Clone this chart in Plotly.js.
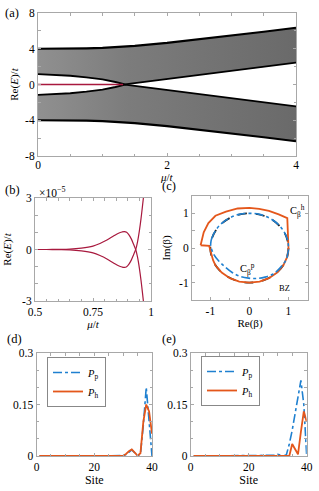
<!DOCTYPE html>
<html><head><meta charset="utf-8">
<script src="https://cdn.plot.ly/plotly-3.0.1.min.js"></script>
<style>html,body{margin:0;padding:0;background:#fff}#g{width:319px;height:491px}</style>
</head><body><div id="g"></div>
<script>
// ---------- panel (a): band envelopes ----------
const muA = [0, 0.25, 0.5, 0.75, 1.0, 1.2, 1.35, 1.5, 2.0, 2.5, 3.0, 3.5, 4.0];
const upTop = [4.0, 4.0, 4.02, 4.05, 4.1, 4.18, 4.25, 4.32, 4.65, 5.05, 5.45, 5.9, 6.35];
const upBot = [1.15, 1.1, 0.98, 0.8, 0.58, 0.28, 0.02, 0.15, 0.62, 1.05, 1.5, 1.95, 2.45];
const loTop = [-1.15, -1.1, -0.98, -0.8, -0.58, -0.28, -0.02, -0.15, -0.62, -1.05, -1.5, -1.95, -2.45];
const loBot = [-4.0, -4.0, -4.02, -4.05, -4.1, -4.18, -4.25, -4.32, -4.65, -5.05, -5.45, -5.9, -6.35];
const muZero = [0, 1.32];
const eZero = [0, 0];
// ---------- panel (b) ----------
const muB = [0.5, 0.55, 0.6, 0.65, 0.7, 0.75, 0.78, 0.81, 0.84, 0.86, 0.875, 0.885, 0.895, 0.905, 0.915, 0.925, 0.934, 0.942, 0.95, 0.957, 0.963, 0.968];
const eBup = [0, 0, 0.005, 0.02, 0.08, 0.2, 0.35, 0.55, 0.8, 0.95, 1.02, 1.04, 1.0, 0.85, 0.62, 0.3, 0.0, -0.45, -1.1, -1.8, -2.5, -3.1];
const eBdn = [0, 0, -0.005, -0.02, -0.08, -0.2, -0.35, -0.55, -0.8, -0.95, -1.02, -1.04, -1.0, -0.85, -0.62, -0.3, 0.0, 0.45, 1.1, 1.8, 2.5, 3.1];
// ---------- panel (c) ----------
const cpRe = [-0.99, -0.97, -0.87, -0.71, -0.5, -0.26, 0, 0.26, 0.5, 0.71, 0.87, 0.97, 1.0, 0.98, 0.94, 0.78, 0.61, 0.4, 0.19, -0.02, -0.24, -0.45, -0.62, -0.78, -0.91, -0.99, -0.99];
const cpIm = [0.14, 0.26, 0.5, 0.71, 0.87, 0.97, 1.0, 0.97, 0.87, 0.71, 0.5, 0.26, 0.0, -0.17, -0.34, -0.58, -0.75, -0.84, -0.88, -0.87, -0.82, -0.7, -0.55, -0.38, -0.19, 0.05, 0.14];
const chRe = [-1.25, -1.03, -0.98, -0.93, -0.87, -0.71, -0.5, -0.26, 0, 0.26, 0.5, 0.71, 0.87, 0.97, 1.0, 0.99, 0.97, 0.75, 0.5, 0.25, 0, -0.3, -0.6, -0.87, -1.05, -1.17, -1.25];
const chIm = [0.08, 0.06, -0.15, -0.35, -0.5, -0.71, -0.87, -0.97, -1.0, -0.97, -0.87, -0.71, -0.5, -0.25, 0.0, 0.4, 0.86, 0.97, 1.07, 1.13, 1.16, 1.14, 1.05, 0.93, 0.72, 0.45, 0.08];
// ---------- panels (d), (e) ----------
const sites = [1,2,3,4,5,6,7,8,9,10,11,12,13,14,15,16,17,18,19,20,21,22,23,24,25,26,27,28,29,30,31,32,33,34,35,36,37,38,39,40];
const pD_p = [0,0,0,0,0,0,0,0,0,0,0,0,0,0,0,0,0,0,0,0,0,0,0,0,0,0,0.001,0.001,0.001,0.001,0.004,0.012,0.018,0.01,0.001,0.005,0.09,0.2,0.09,0.0];
const pD_h = [0,0,0,0,0,0,0,0,0,0,0,0,0,0,0,0,0,0,0,0,0,0,0,0,0,0,0.001,0.002,0.002,0.001,0.006,0.014,0.019,0.01,0.001,0.008,0.1,0.15,0.13,0.065];
const pE_p = [0,0,0,0,0,0,0,0,0,0,0,0,0,0,0,0,0,0,0,0,0,0,0,0,0,0,0,0.001,0.002,0.005,0.002,0.0,0.004,0.035,0.075,0.12,0.165,0.22,0.15,0.0];
const pE_h = [0,0,0,0,0,0,0,0,0,0,0,0,0,0,0,0,0,0,0,0,0,0,0,0,0,0,0,0,0.001,0.001,0.002,0.002,0.002,0.0,0.035,0.02,0.005,0.07,0.13,0.1];
// ---------- tick labels ----------
const aXt = [0, 2, 4], aXl = ['0', '2', '4'];
const aYt = [-8, -4, 0, 4, 8], aYl = ['-8', '-4', '0', '4', '8'];
const bXt = [0.5, 0.75, 1], bXl = ['0.5', '0.75', '1'];
const bYt = [-3, 0, 3], bYl = ['-3', '0', '3'];
const cXt = [-1, 0, 1], cXl = ['-1', '0', '1'];
const dXt = [0, 20, 40], dXl = ['0', '20', '40'];
const dYt = [0, 0.15, 0.3], dYl = ['0', '0.15', '0.3'];

const RED = '#a8193e', BLUE = '#1f80d0', ORANGE = '#e4571b';
const FONT = "Times New Roman, Liberation Serif, Times, serif";

function poly(x, top, bot) {
  return { x: x.concat(x.slice().reverse()), y: top.concat(bot.slice().reverse()) };
}
const pu = poly(muA, upTop, upBot), pl = poly(muA, loTop, loBot);
const grad = { type: 'horizontal', colorscale: [[0, '#909090'], [0.35, '#7c7c7c'], [1, '#6a6a6a']] };
const traces = [
  { x: pu.x, y: pu.y, fill: 'toself', fillgradient: grad, line: { width: 0 }, mode: 'lines', xaxis: 'x', yaxis: 'y', showlegend: false, hoverinfo: 'skip' },
  { x: pl.x, y: pl.y, fill: 'toself', fillgradient: grad, line: { width: 0 }, mode: 'lines', xaxis: 'x', yaxis: 'y', showlegend: false, hoverinfo: 'skip' },
  { x: muA, y: upTop, mode: 'lines', line: { color: '#000', width: 2.2 }, xaxis: 'x', yaxis: 'y', showlegend: false },
  { x: muA, y: upBot, mode: 'lines', line: { color: '#000', width: 1.8 }, xaxis: 'x', yaxis: 'y', showlegend: false },
  { x: muA, y: loTop, mode: 'lines', line: { color: '#000', width: 1.8 }, xaxis: 'x', yaxis: 'y', showlegend: false },
  { x: muA, y: loBot, mode: 'lines', line: { color: '#000', width: 2.2 }, xaxis: 'x', yaxis: 'y', showlegend: false },
  { x: muZero, y: eZero, mode: 'lines', line: { color: RED, width: 1.5 }, xaxis: 'x', yaxis: 'y', showlegend: false },
  // (b)
  { x: muB, y: eBup, mode: 'lines', line: { color: RED, width: 1.2, shape: 'spline' }, xaxis: 'x2', yaxis: 'y2', showlegend: false },
  { x: muB, y: eBdn, mode: 'lines', line: { color: RED, width: 1.2, shape: 'spline' }, xaxis: 'x2', yaxis: 'y2', showlegend: false },
  // (c)
  { x: chRe, y: chIm, mode: 'lines', line: { color: ORANGE, width: 1.8 }, xaxis: 'x3', yaxis: 'y3', showlegend: false },
  { x: cpRe, y: cpIm, mode: 'lines', line: { color: BLUE, width: 1.6, dash: 'dashdot', shape: 'spline' }, xaxis: 'x3', yaxis: 'y3', showlegend: false },
  // (d)
  { x: sites, y: pD_p, mode: 'lines', name: '<i>P</i><sub>p</sub>', line: { color: BLUE, width: 1.6, dash: 'dashdot' }, xaxis: 'x4', yaxis: 'y4', legend: 'legend' },
  { x: sites, y: pD_h, mode: 'lines', name: '<i>P</i><sub>h</sub>', line: { color: ORANGE, width: 1.8 }, xaxis: 'x4', yaxis: 'y4', legend: 'legend' },
  // (e)
  { x: sites, y: pE_p, mode: 'lines', name: '<i>P</i><sub>p</sub>', line: { color: BLUE, width: 1.6, dash: 'dashdot' }, xaxis: 'x5', yaxis: 'y5', legend: 'legend2' },
  { x: sites, y: pE_h, mode: 'lines', name: '<i>P</i><sub>h</sub>', line: { color: ORANGE, width: 1.8 }, xaxis: 'x5', yaxis: 'y5', legend: 'legend2' }
];

function ax(domain, range, tv, tt, minorDt, anchor, extra) {
  return Object.assign({
    domain: domain, range: range, tickvals: tv, ticktext: tt, anchor: anchor,
    showline: true, linecolor: '#a8a8a8', linewidth: 1, mirror: 'ticks',
    ticks: 'inside', ticklen: 3, tickcolor: '#a8a8a8', showgrid: false, zeroline: false,
    tickfont: { family: FONT, size: 11.5, color: '#000' },
    minor: minorDt ? { dtick: minorDt, tick0: 0, ticks: 'inside', ticklen: 2.5, tickcolor: '#a8a8a8' } : undefined
  }, extra || {});
}
const W = 319, H = 491;
const dx = (a, b) => [a / W, b / W];
const dy = (top, bot) => [1 - bot / H, 1 - top / H];
const tf = { family: FONT, size: 11, color: '#000' };
const ann = (text, px, py, size, xa) => ({ text: text, x: px / W, y: 1 - py / H, xref: 'paper', yref: 'paper',
  xanchor: xa || 'left', yanchor: 'middle', showarrow: false, font: { family: FONT, size: size, color: '#000' } });
const dann = (text, x, y, size, xa) => ({ text: text, x: x, y: y, xref: 'x3', yref: 'y3', xanchor: xa, yanchor: 'middle',
  showarrow: false, font: { family: FONT, size: size, color: '#000' } });

const layout = {
  width: W, height: H, margin: { l: 0, r: 0, t: 0, b: 0 },
  paper_bgcolor: '#fff', plot_bgcolor: '#fff', font: { family: FONT, color: '#000' },
  xaxis: ax(dx(38, 296), [0, 4], aXt, aXl, 0.5, 'y', { ticklabelstandoff: -2 }),
  yaxis: ax(dy(13, 156), [-8, 8], aYt, aYl, 2, 'x', { title: { text: 'Re(<i>E</i>)/<i>t</i>', font: tf, standoff: 4 } }),
  xaxis2: ax(dx(35, 151), [0.5, 1], bXt, bXl, 0.05, 'y2', { title: { text: '<i>μ</i>/<i>t</i>', font: tf, standoff: 1 } }),
  yaxis2: ax(dy(198, 301), [-3, 3], bYt, bYl, 1, 'x2', { title: { text: 'Re(<i>E</i>)/<i>t</i>', font: tf, standoff: 8 } }),
  xaxis3: ax(dx(192, 308), [-1.47, 1.5], cXt, cXl, 0.5, 'y3', { title: { text: 'Re(β)', font: tf, standoff: 3 } }),
  yaxis3: ax(dy(196, 300), [-1.5, 1.5], cXt, cXl, 0.5, 'x3', { title: { text: 'Im(β)', font: tf, standoff: 6 } }),
  xaxis4: ax(dx(36.5, 152), [0, 40], dXt, dXl, 5, 'y4', { title: { text: 'Site', font: { family: FONT, size: 12, color: '#000' }, standoff: 1 } }),
  yaxis4: ax(dy(353, 456), [0, 0.3], dYt, dYl, 0.05, 'x4'),
  xaxis5: ax(dx(190.7, 306.7), [0, 40], dXt, dXl, 5, 'y5', { title: { text: 'Site', font: { family: FONT, size: 12, color: '#000' }, standoff: 1 } }),
  yaxis5: ax(dy(353, 456), [0, 0.3], dYt, dYl, 0.05, 'x5'),
  legend: { x: 47 / W, y: 1 - 357 / H, xanchor: 'left', yanchor: 'top', bordercolor: '#888', borderwidth: 1, bgcolor: '#fff',
    font: { family: FONT, size: 10.5, color: '#000' }, tracegroupgap: 0, itemwidth: 30 },
  legend2: { x: 201 / W, y: 1 - 356 / H, xanchor: 'left', yanchor: 'top', bordercolor: '#888', borderwidth: 1, bgcolor: '#fff',
    font: { family: FONT, size: 10.5, color: '#000' }, tracegroupgap: 0, itemwidth: 30 },
  shapes: [
    { type: 'circle', xref: 'x3', yref: 'y3', x0: -1, x1: 1, y0: -1, y1: 1, line: { color: '#222', width: 1.8, dash: 'dash' }, layer: 'below' }
  ],
  annotations: [
    ann('<i>μ</i>/<i>t</i>', 167, 177, 11, 'center'),
    ann('(a)', 3, 13, 12.5), ann('(b)', 3, 190, 12.5), ann('(c)', 160, 186, 12.5),
    ann('(d)', 5, 339, 12.5), ann('(e)', 160, 339, 12.5),
    ann('×10<sup>−5</sup>', 37, 192, 11.5),
    dann('C<sub>β</sub><sup>h</sup>', 0.98, 1.06, 10.5, 'left'),
    dann('C<sub>β</sub><sup>p</sup>', -0.06, -0.6, 10.5, 'center'),
    dann('BZ', 0.9, -1.15, 8.5, 'center')
  ]
};
Plotly.newPlot('g', traces, layout, { staticPlot: true, displayModeBar: false });
</script></body></html>
